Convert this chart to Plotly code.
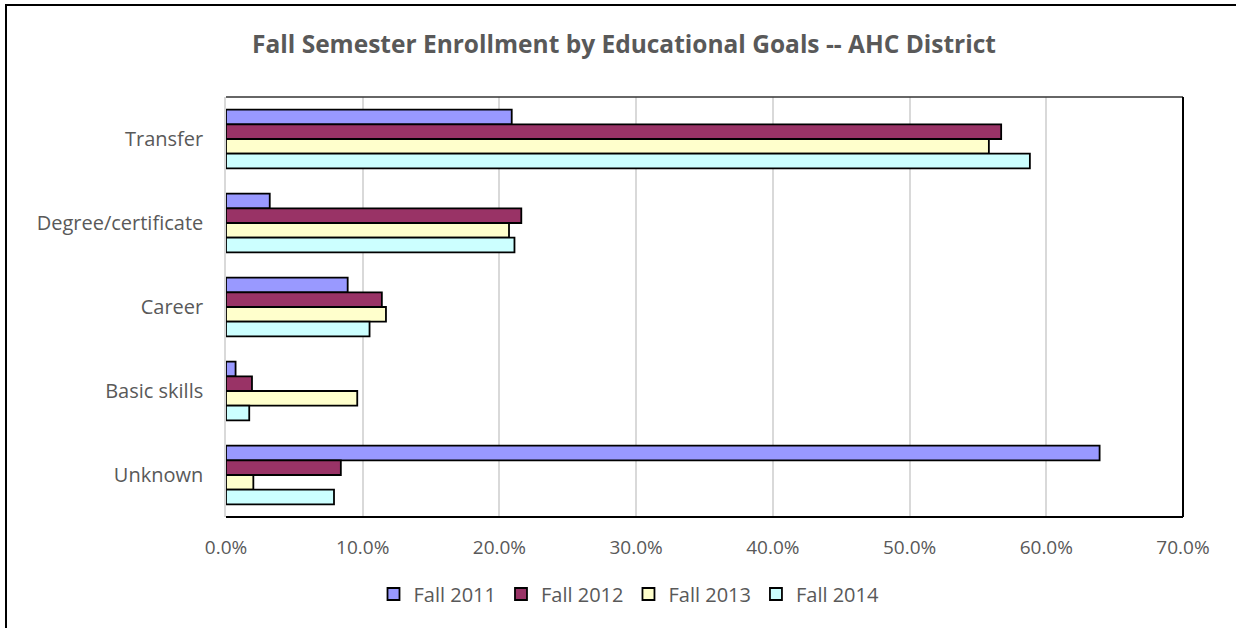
import plotly.graph_objects as go

# Enrollment share (%) by educational goal, one list per fall term
categories = ["Transfer", "Degree/certificate", "Career", "Basic skills", "Unknown"]
fall_2011 = [20.9, 3.2, 8.9, 0.7, 63.9]
fall_2012 = [56.7, 21.6, 11.4, 1.9, 8.4]
fall_2013 = [55.8, 20.7, 11.7, 9.6, 2.0]
fall_2014 = [58.8, 21.1, 10.5, 1.7, 7.9]
series_names = ["Fall 2011", "Fall 2012", "Fall 2013", "Fall 2014"]
tick_values = [0, 10, 20, 30, 40, 50, 60, 70]
tick_labels = [f"{v:.1f}%" for v in tick_values]

colors = ["#9999FF", "#993366", "#FFFFCC", "#CCFFFF"]
text_color = "#595959"
font_family = "Open Sans, Liberation Sans, sans-serif"

W, H = 1236, 628
ml, mr, mt, mb = 226, 53, 97, 111
pw, ph = W - ml - mr, H - mt - mb

fig = go.Figure()
for name, vals, col in zip(series_names, [fall_2011, fall_2012, fall_2013, fall_2014], colors):
    fig.add_trace(go.Bar(
        y=categories, x=vals, name=name, orientation="h",
        marker=dict(color=col, line=dict(color="#000000", width=1.8)),
    ))

def px_x(p):
    return (p - ml) / pw

def px_y(p):
    return 1 - (p - mt) / ph

shapes = [
    # outer chart border (extends past the right/bottom edges)
    dict(type="rect", xref="paper", yref="paper",
         x0=px_x(6), x1=px_x(W + 20), y0=px_y(H + 20), y1=px_y(5),
         line=dict(color="#000000", width=2), fillcolor="rgba(0,0,0,0)", layer="above"),
    # plot area border: top, right, bottom
    dict(type="line", xref="paper", yref="paper", x0=0, x1=1, y0=1, y1=1,
         line=dict(color="#333333", width=1.5)),
    dict(type="line", xref="paper", yref="paper", x0=1, x1=1, y0=0, y1=1,
         line=dict(color="#000000", width=2)),
    dict(type="line", xref="paper", yref="paper", x0=0, x1=1, y0=0, y1=0,
         line=dict(color="#000000", width=2), layer="above"),
]

fig.update_layout(
    width=W, height=H,
    margin=dict(l=ml, r=mr, t=mt, b=mb),
    paper_bgcolor="white", plot_bgcolor="white",
    barmode="group", bargap=0.3, bargroupgap=0,
    font=dict(family=font_family, color=text_color, size=20),
    title=dict(
        text="<b>Fall Semester Enrollment by Educational Goals -- AHC District</b>",
        x=624 / W, xref="container", xanchor="center", y=1 - 44 / H, yanchor="middle",
        font=dict(family=font_family, size=24.5, color=text_color),
    ),
    xaxis=dict(
        range=[0, 70], tickmode="array", tickvals=tick_values, ticktext=tick_labels,
        showgrid=True, gridcolor="#D9D9D9", gridwidth=1.5,
        zeroline=False, showline=False, ticks="", ticklen=0,
        ticklabelstandoff=17,
        tickfont=dict(size=19, color=text_color),
    ),
    yaxis=dict(
        autorange="reversed", showgrid=False, zeroline=False,
        showline=True, linecolor="#D9D9D9", linewidth=1.5,
        ticks="", ticklabelstandoff=17,
        tickfont=dict(size=20, color=text_color),
    ),
    legend=dict(
        orientation="h", x=(629 - ml) / pw, xanchor="center",
        y=px_y(594), yanchor="middle",
        traceorder="normal", font=dict(size=20, color=text_color),
        itemwidth=30,
    ),
    shapes=shapes,
)

fig.write_html("out.html")
